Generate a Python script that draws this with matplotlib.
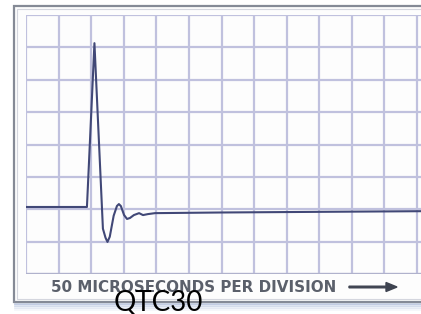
import matplotlib.pyplot as plt
from matplotlib.patches import Rectangle, FancyArrow

W, H = 421, 314

# trace, in divisions (x: time, y: amplitude)
t_div = [0.0, 1.87, 2.10, 2.36, 2.44, 2.50, 2.57, 2.69, 2.79, 2.85, 2.91,
         3.01, 3.10, 3.19, 3.31, 3.47, 3.59, 3.74, 3.96, 6.0, 9.0, 12.12]
v_div = [2.07, 2.07, 7.13, 1.40, 1.12, 0.99, 1.15, 1.80, 2.10, 2.16, 2.10,
         1.82, 1.70, 1.73, 1.82, 1.88, 1.82, 1.85, 1.88, 1.90, 1.92, 1.94]

x_divisions = list(range(13))
y_divisions = list(range(9))

label_text = "50 MICROSECONDS PER DIVISION"
overlay_text = "QTC30"

GRID = "#c0c1de"
TRACE = "#414877"
FRAME = "#858a96"


def px(x, y):
    # pixel position -> figure fraction
    return x / W, 1 - y / H


fig = plt.figure(figsize=(W / 100, H / 100), dpi=100)
fig.patch.set_facecolor("white")

# outer frame of the screen picture, with a soft shadow below
for i, a in enumerate([0.35, 0.25, 0.15, 0.08]):
    fig.add_artist(plt.Line2D([15 / W, 1], [1 - (303 + 2 * i) / H] * 2,
                              color="#7e95c4", lw=2, alpha=a, zorder=-6))
fig.add_artist(Rectangle(px(14, 302), (W + 10 - 14) / W, (302 - 6) / H,
                         fill=True, facecolor="#fdfdfd", edgecolor=FRAME,
                         lw=1.6, zorder=-5))
fig.add_artist(Rectangle(px(17, 299), (W + 10 - 17) / W, (299 - 9) / H,
                         fill=False, edgecolor="#d4d6de", lw=0.8, zorder=-4))

ax = fig.add_axes([26 / W, (H - 274) / H, (W - 26) / W, (274 - 15) / H])
ax.set_facecolor("none")
ax.set_xlim(0, 12.12)
ax.set_ylim(0, 8)
for xv in x_divisions:
    ax.axvline(xv, color=GRID, lw=1.6, zorder=1)
for yv in y_divisions:
    ax.axhline(yv, color=GRID, lw=1.6, zorder=1)
ax.axhline(0, color="#b0b2cc", lw=1.6, zorder=1)
for sp in ax.spines.values():
    sp.set_visible(False)
ax.set_xticks([])
ax.set_yticks([])

ax.plot(t_div, v_div, color=TRACE, lw=1.5, solid_joinstyle="round", zorder=3)

fx, fy = px(194, 287)
fig.text(fx, fy, label_text, ha="center", va="center", fontsize=10.9,
         fontweight="bold", color="#5b606b", family="DejaVu Sans")
ax0, ay0 = px(349, 287)
fig.add_artist(FancyArrow(ax0, ay0, 48 / W, 0, width=1.6 / H,
                          head_width=9 / H, head_length=11 / W,
                          length_includes_head=True, color="#3e4350",
                          transform=fig.transFigure))

qx, qy = px(158, 303)
fig.text(qx, qy, overlay_text, ha="center", va="center", fontsize=20,
         color="black", family="Lato")

fig.savefig("out.png", dpi=100)
